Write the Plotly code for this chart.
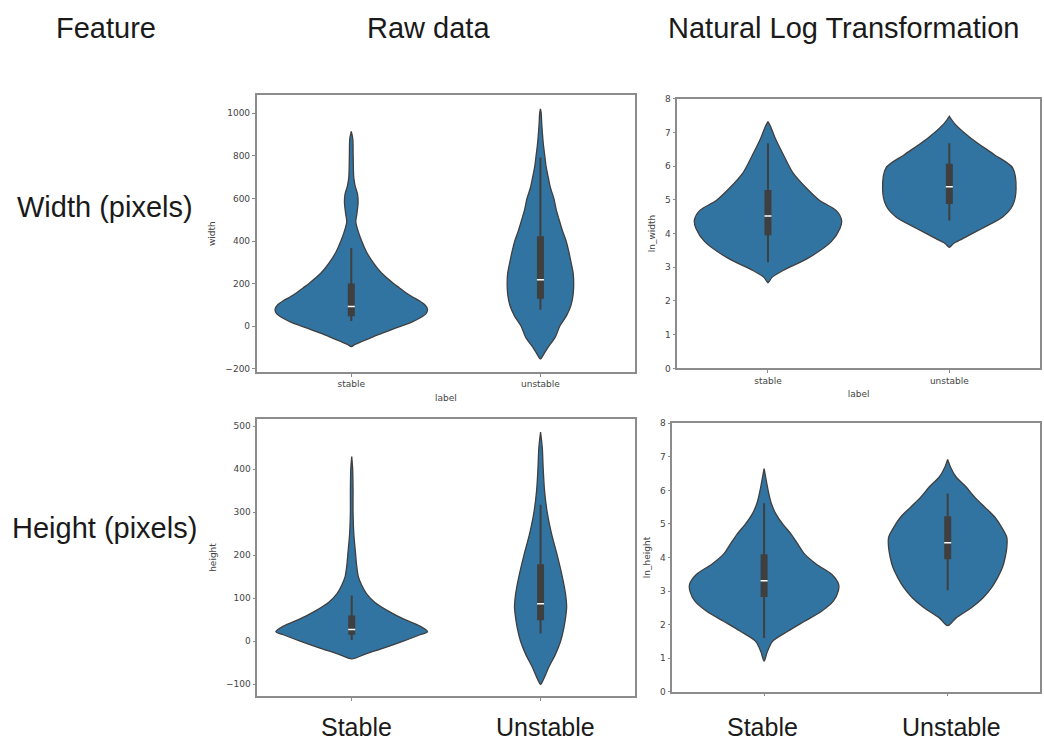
import plotly.graph_objects as go

# ---------------- data ----------------
categories = ["stable", "unstable"]

# violin outlines: value -> half-width (in category units)
width_stable_vals = [-95, -85, -70, -55, -40, -20, 0, 20, 40, 60, 80, 100, 120, 140, 160, 180, 200,
                     250, 300, 350, 400, 450, 490, 530, 580, 620, 660, 700, 800, 880, 915]
width_stable_hw = [0, 0.02, 0.06, 0.1, 0.14, 0.2, 0.26, 0.32, 0.365, 0.395, 0.403, 0.39, 0.36, 0.32,
                   0.285, 0.255, 0.225, 0.16, 0.115, 0.08, 0.055, 0.035, 0.024, 0.03, 0.036, 0.033,
                   0.02, 0.013, 0.01, 0.008, 0]
width_unstable_vals = [-153, -130, -100, -50, 0, 50, 100, 150, 200, 250, 300, 350, 400, 450, 500,
                       550, 600, 650, 700, 750, 800, 850, 900, 950, 1000, 1020]
width_unstable_hw = [0, 0.018, 0.039, 0.079, 0.102, 0.138, 0.162, 0.173, 0.176, 0.173, 0.162, 0.15,
                     0.136, 0.116, 0.099, 0.083, 0.071, 0.053, 0.041, 0.03, 0.023, 0.016, 0.011,
                     0.007, 0.004, 0]

ln_width_stable_vals = [2.54, 2.7, 2.93, 3.27, 3.76, 4.15, 4.39, 4.68, 4.98, 5.32, 5.8, 6.34, 6.83, 7.17, 7.32]
ln_width_stable_hw = [0, 0.022, 0.092, 0.221, 0.349, 0.397, 0.406, 0.377, 0.285, 0.217, 0.138, 0.085,
                      0.04, 0.015, 0]
ln_width_unstable_vals = [3.59, 3.7, 3.85, 4.15, 4.49, 4.83, 5.32, 5.95, 6.34, 6.83, 7.27, 7.48]
ln_width_unstable_hw = [0, 0.022, 0.074, 0.18, 0.294, 0.349, 0.368, 0.349, 0.248, 0.119, 0.028, 0]

height_stable_vals = [-41, -30, -15, 0, 15, 22, 35, 50, 70, 90, 110, 130, 150, 180, 200, 250, 300,
                      350, 400, 429]
height_stable_hw = [0, 0.071, 0.176, 0.273, 0.362, 0.402, 0.362, 0.282, 0.194, 0.123, 0.079, 0.053,
                    0.035, 0.025, 0.021, 0.011, 0.007, 0.007, 0.005, 0]
height_unstable_vals = [-100, -90, -60, -30, 0, 30, 60, 80, 110, 150, 200, 250, 300, 350, 400, 450, 486]
height_unstable_hw = [0, 0.014, 0.044, 0.079, 0.106, 0.123, 0.134, 0.138, 0.132, 0.115, 0.088,
                      0.058, 0.035, 0.021, 0.014, 0.009, 0]

ln_height_stable_vals = [0.91, 1.2, 1.5, 1.8, 2.1, 2.4, 2.7, 3.0, 3.2, 3.5, 3.8, 4.1, 4.4, 4.7, 5.0,
                         5.3, 5.6, 5.9, 6.2, 6.65]
ln_height_stable_hw = [0, 0.018, 0.046, 0.129, 0.221, 0.313, 0.377, 0.404, 0.406, 0.368, 0.285,
                       0.221, 0.184, 0.147, 0.101, 0.064, 0.04, 0.026, 0.015, 0]
ln_height_unstable_vals = [1.97, 2.2, 2.5, 2.8, 3.1, 3.4, 3.7, 4.0, 4.3, 4.6, 4.9, 5.2, 5.5, 5.8,
                           6.1, 6.4, 6.7, 6.92]
ln_height_unstable_hw = [0, 0.046, 0.129, 0.193, 0.239, 0.272, 0.298, 0.313, 0.322, 0.322, 0.294,
                         0.257, 0.202, 0.147, 0.101, 0.046, 0.015, 0]

# box stats: [whisker low, q1, median, q3, whisker high]
width_stable_box = [25, 47, 93, 201, 368]
width_unstable_box = [78, 129, 218, 422, 792]
ln_width_stable_box = [3.15, 3.95, 4.52, 5.29, 6.68]
ln_width_unstable_box = [4.39, 4.88, 5.39, 6.07, 6.68]
height_stable_box = [3, 15, 27, 60, 106]
height_unstable_box = [18, 49, 87, 179, 317]
ln_height_stable_box = [1.6, 2.82, 3.31, 4.10, 5.62]
ln_height_unstable_box = [3.02, 3.95, 4.44, 5.23, 5.91]

y_ticks_width = [-200, 0, 200, 400, 600, 800, 1000]
y_ticks_height = [-100, 0, 100, 200, 300, 400, 500]
y_ticks_ln = [0, 1, 2, 3, 4, 5, 6, 7, 8]

# ---------------- styling ----------------
W, H = 1044, 747
VIOLIN_FILL = "#3274a1"
EDGE = "#3f3f3f"
FRAME = "#8c8c8c"
TICKFONT = dict(family="DejaVu Sans, Liberation Sans, sans-serif", size=9, color="#444444")
BIGFONT = dict(family="Liberation Sans, Arial, sans-serif", size=29, color="#1a1a1a")
LBLFONT = dict(family="Liberation Sans, Arial, sans-serif", size=25, color="#1a1a1a")

fig = go.Figure()

panels = [
    ("x", "y", [(width_stable_vals, width_stable_hw, width_stable_box),
                (width_unstable_vals, width_unstable_hw, width_unstable_box)]),
    ("x2", "y2", [(ln_width_stable_vals, ln_width_stable_hw, ln_width_stable_box),
                  (ln_width_unstable_vals, ln_width_unstable_hw, ln_width_unstable_box)]),
    ("x3", "y3", [(height_stable_vals, height_stable_hw, height_stable_box),
                  (height_unstable_vals, height_unstable_hw, height_unstable_box)]),
    ("x4", "y4", [(ln_height_stable_vals, ln_height_stable_hw, ln_height_stable_box),
                  (ln_height_unstable_vals, ln_height_unstable_hw, ln_height_unstable_box)]),
]

for xa, ya, groups in panels:
    for idx, (vals, hw, box) in enumerate(groups):
        xs = [idx + h for h in hw] + [idx - h for h in reversed(hw)]
        ys = list(vals) + list(reversed(vals))
        fig.add_trace(go.Scatter(x=xs, y=ys, xaxis=xa, yaxis=ya, mode="lines",
                                 line=dict(color=EDGE, width=1.3, shape="spline", smoothing=0.8),
                                 fill="toself", fillcolor=VIOLIN_FILL, hoverinfo="skip",
                                 showlegend=False))
        lo, q1, med, q3, hi = box
        fig.add_trace(go.Scatter(x=[idx, idx], y=[lo, hi], xaxis=xa, yaxis=ya, mode="lines",
                                 line=dict(color=EDGE, width=2), showlegend=False, hoverinfo="skip"))
        fig.add_trace(go.Scatter(x=[idx, idx], y=[q1, q3], xaxis=xa, yaxis=ya, mode="lines",
                                 line=dict(color=EDGE, width=7), showlegend=False, hoverinfo="skip"))
        fig.add_trace(go.Scatter(x=[idx], y=[med], xaxis=xa, yaxis=ya, mode="markers",
                                 marker=dict(symbol="line-ew", size=5,
                                             line=dict(color="white", width=1.5)),
                                 showlegend=False, hoverinfo="skip"))


def px_dom_x(a, b):
    return [a / W, b / W]


def px_dom_y(top, bottom):
    return [1 - bottom / H, 1 - top / H]


def xaxis(dom, anchor, labels):
    return dict(domain=dom, anchor=anchor, range=[-0.5, 1.5], tickvals=[0, 1],
                ticktext=categories if labels else ["", ""], showticklabels=labels,
                title=dict(text="label" if labels else "", font=TICKFONT, standoff=6),
                ticks="outside", ticklen=3, tickcolor=FRAME, tickfont=TICKFONT,
                showline=True, linecolor=FRAME, linewidth=1.6, mirror=True,
                showgrid=False, zeroline=False, fixedrange=True)


def yaxis(dom, anchor, rng, ticks, title):
    return dict(domain=dom, anchor=anchor, range=rng, tickvals=ticks,
                title=dict(text=title, font=TICKFONT, standoff=8),
                ticks="outside", ticklen=3, tickcolor=FRAME, tickfont=TICKFONT,
                showline=True, linecolor=FRAME, linewidth=1.6, mirror=True,
                showgrid=False, zeroline=False, fixedrange=True)


fig.update_layout(
    width=W, height=H, margin=dict(l=0, r=0, t=0, b=0),
    paper_bgcolor="white", plot_bgcolor="white", showlegend=False,
    xaxis=xaxis(px_dom_x(256.7, 635), "y", True),
    yaxis=yaxis(px_dom_y(91.7, 371.7), "x", [-213, 1083], y_ticks_width, "width"),
    xaxis2=xaxis(px_dom_x(677.3, 1040), "y2", True),
    yaxis2=yaxis(px_dom_y(95, 368.3), "x2", [0, 8], y_ticks_ln, "ln_width"),
    xaxis3=xaxis(px_dom_x(257.3, 635), "y3", False),
    yaxis3=yaxis(px_dom_y(419.3, 700.7), "x3", [-128, 517], y_ticks_height, "height"),
    xaxis4=xaxis(px_dom_x(672.3, 1039.5), "y4", False),
    yaxis4=yaxis(px_dom_y(424, 696), "x4", [0, 8], y_ticks_ln, "ln_height"),
)

texts = [
    ("Feature", 106, 23, BIGFONT),
    ("Raw data", 428, 23, BIGFONT),
    ("Natural Log Transformation", 843, 23, BIGFONT),
    ("Width (pixels)", 105, 205, BIGFONT),
    ("Height (pixels)", 104, 530, BIGFONT),
    ("Stable", 356, 732, LBLFONT),
    ("Unstable", 545, 732, LBLFONT),
    ("Stable", 762, 732, LBLFONT),
    ("Unstable", 951, 732, LBLFONT),
]
for t, x, y, f in texts:
    fig.add_annotation(text=t, x=x / W, y=1 - y / H, xref="paper", yref="paper",
                       xanchor="center", yanchor="middle", showarrow=False, font=f)

fig.write_html("out.html")
